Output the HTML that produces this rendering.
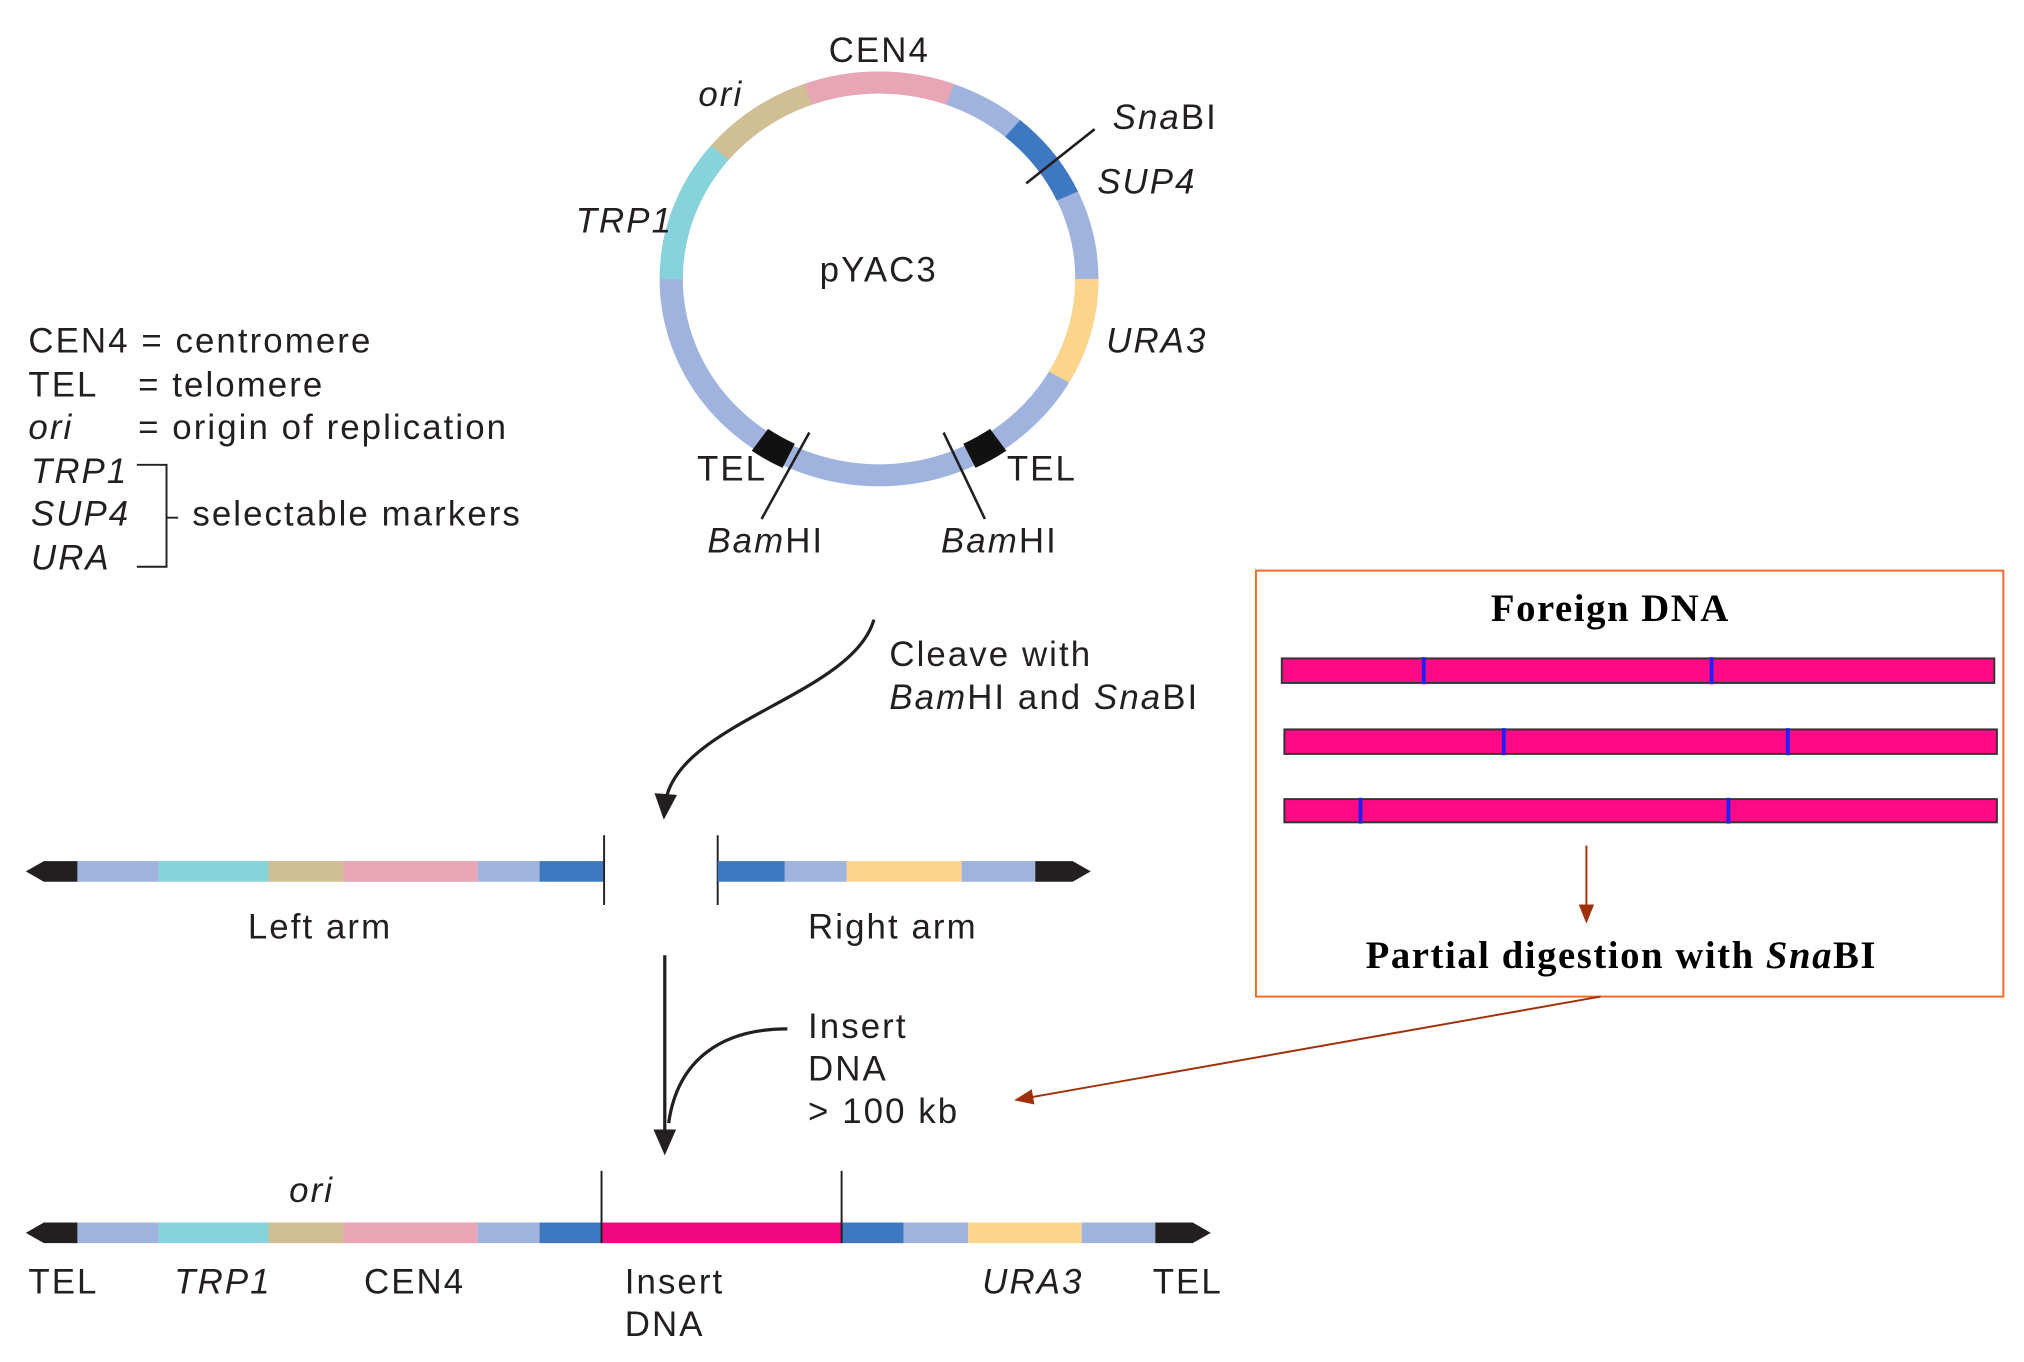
<!DOCTYPE html>
<html><head><meta charset="utf-8"><style>
html,body{margin:0;padding:0;background:#fff;}
svg{display:block}
text{font-family:"Liberation Sans",sans-serif;fill:#231f20}
.s{font-size:27px;letter-spacing:1.6px}
.i{font-style:italic}
.b{font-family:"Liberation Serif",serif;font-weight:bold;font-size:30px;letter-spacing:1.2px;fill:#000}
</style></head><body>
<svg width="2024" height="1362" viewBox="0 0 1568 1055" xmlns="http://www.w3.org/2000/svg">
<defs>
<marker id="ah" markerWidth="8" markerHeight="10" refX="4" refY="5" orient="auto"><path d="M0,1.5 L8,5 L0,8.5 Z" fill="#231f20"/></marker>
<marker id="ar" markerWidth="10" markerHeight="10" refX="5" refY="5" orient="auto"><path d="M0,1 L10,5 L0,9 Z" fill="#a0300a"/></marker>
</defs>
<g fill="none" stroke-width="18" transform="translate(681,216) scale(1,0.945)">
<circle r="161" stroke="#9fb3de"/>
<path d="M-55.1,-151.3 A161,161 0 0 1 55.1,-151.3" stroke="#e8a5b3"/>
<path d="M103.5,-123.3 A161,161 0 0 1 145.9,-68" stroke="#3d78c0"/>
<path d="M161,0 A161,161 0 0 1 139.4,80.5" stroke="#fdd58a"/>
<path d="M-161,0 A161,161 0 0 1 -123.3,-103.5" stroke="#86d3dc"/>
<path d="M-123.3,-103.5 A161,161 0 0 1 -55.1,-151.3" stroke="#d1bf94"/>
<path d="M92.3,131.9 A161,161 0 0 1 70,145" stroke="#111" stroke-width="22"/>
<path d="M-70,145 A161,161 0 0 1 -92.3,131.9" stroke="#111" stroke-width="22"/>
</g>
<g stroke="#231f20" stroke-width="2">
<line x1="795" y1="142" x2="848" y2="100"/>
<line x1="627" y1="335" x2="590" y2="402"/>
<line x1="731" y1="335" x2="763" y2="402"/>
</g>
<text class="s" x="642" y="48">CEN4</text>
<text class="s i" x="541" y="82">ori</text>
<text class="s" x="862" y="100"><tspan class="i">Sna</tspan>BI</text>
<text class="s i" x="850" y="150">SUP4</text>
<text class="s i" x="446" y="180">TRP1</text>
<text class="s" x="635" y="218">pYAC3</text>
<text class="s i" x="857" y="273">URA3</text>
<text class="s" x="540" y="372">TEL</text>
<text class="s" x="780" y="372">TEL</text>
<text class="s" x="548" y="428"><tspan class="i">Bam</tspan>HI</text>
<text class="s" x="729" y="428"><tspan class="i">Bam</tspan>HI</text>
<text class="s" x="22" y="273">CEN4 = centromere</text>
<text class="s" x="22" y="307">TEL</text><text class="s" x="107" y="307">= telomere</text>
<text class="s i" x="22" y="340">ori</text><text class="s" x="107" y="340">= origin of replication</text>
<text class="s i" x="24" y="374">TRP1</text>
<text class="s i" x="24" y="407">SUP4</text>
<text class="s i" x="24" y="441">URA</text>
<path d="M106,360 H129 V439 H106 M129,401 H138" fill="none" stroke="#231f20" stroke-width="1.5"/>
<text class="s" x="149" y="407">selectable markers</text>
<path d="M677,480 C660,540 520,560 515,625" fill="none" stroke="#231f20" stroke-width="2.5" marker-end="url(#ah)"/>
<text class="s" x="689" y="516">Cleave with</text>
<text class="s" x="689" y="549"><tspan class="i">Bam</tspan>HI and <tspan class="i">Sna</tspan>BI</text>
<g>
<path d="M20,675 L34,667 H60 V683 H34 Z" fill="#231f20"/>
<rect x="60" y="667" width="63" height="16" fill="#9fb3de"/>
<rect x="123" y="667" width="85" height="16" fill="#86d3dc"/>
<rect x="208" y="667" width="58" height="16" fill="#d1bf94"/>
<rect x="266" y="667" width="104" height="16" fill="#e8a5b3"/>
<rect x="370" y="667" width="48" height="16" fill="#9fb3de"/>
<rect x="418" y="667" width="50" height="16" fill="#3d78c0"/>
<line x1="468" y1="647" x2="468" y2="701" stroke="#231f20" stroke-width="1.5"/>
<line x1="556" y1="647" x2="556" y2="701" stroke="#231f20" stroke-width="1.5"/>
<rect x="556" y="667" width="52" height="16" fill="#3d78c0"/>
<rect x="608" y="667" width="48" height="16" fill="#9fb3de"/>
<rect x="656" y="667" width="89" height="16" fill="#fdd58a"/>
<rect x="745" y="667" width="57" height="16" fill="#9fb3de"/>
<path d="M802,667 H831 L845,675 L831,683 H802 Z" fill="#231f20"/>
</g>
<text class="s" x="192" y="727">Left arm</text>
<text class="s" x="626" y="727">Right arm</text>
<line x1="515" y1="740" x2="515" y2="885" stroke="#231f20" stroke-width="2.5" marker-end="url(#ah)"/>
<path d="M610,797 C560,797 525,820 518,870" fill="none" stroke="#231f20" stroke-width="2.5"/>
<text class="s" x="626" y="804">Insert</text>
<text class="s" x="626" y="837">DNA</text>
<text class="s" x="626" y="870">&gt; 100 kb</text>
<g>
<path d="M20,955 L34,947 H60 V963 H34 Z" fill="#231f20"/>
<rect x="60" y="947" width="63" height="16" fill="#9fb3de"/>
<rect x="123" y="947" width="85" height="16" fill="#86d3dc"/>
<rect x="208" y="947" width="58" height="16" fill="#d1bf94"/>
<rect x="266" y="947" width="104" height="16" fill="#e8a5b3"/>
<rect x="370" y="947" width="48" height="16" fill="#9fb3de"/>
<rect x="418" y="947" width="48" height="16" fill="#3d78c0"/>
<rect x="466" y="947" width="186" height="16" fill="#f0087e"/>
<rect x="652" y="947" width="48" height="16" fill="#3d78c0"/>
<rect x="700" y="947" width="50" height="16" fill="#9fb3de"/>
<rect x="750" y="947" width="88" height="16" fill="#fdd58a"/>
<rect x="838" y="947" width="57" height="16" fill="#9fb3de"/>
<path d="M895,947 H924 L938,955 L924,963 H895 Z" fill="#231f20"/>
<line x1="466" y1="907" x2="466" y2="963" stroke="#231f20" stroke-width="1.5"/>
<line x1="652" y1="907" x2="652" y2="963" stroke="#231f20" stroke-width="1.5"/>
</g>
<text class="s i" x="224" y="931">ori</text>
<text class="s" x="22" y="1002">TEL</text>
<text class="s i" x="135" y="1002">TRP1</text>
<text class="s" x="282" y="1002">CEN4</text>
<text class="s" x="484" y="1002">Insert</text>
<text class="s" x="484" y="1035">DNA</text>
<text class="s i" x="761" y="1002">URA3</text>
<text class="s" x="893" y="1002">TEL</text>
<rect x="973" y="442" width="579" height="330" fill="none" stroke="#f06a25" stroke-width="1.5"/>
<text class="b" x="1155" y="481">Foreign DNA</text>
<g stroke="#333" stroke-width="1.5" fill="#ff0a85">
<rect x="993" y="510" width="552" height="19"/>
<rect x="995" y="565" width="552" height="19"/>
<rect x="995" y="619" width="552" height="18"/>
</g>
<g stroke="#2020ff" stroke-width="3">
<line x1="1103" y1="509" x2="1103" y2="530"/>
<line x1="1326" y1="509" x2="1326" y2="530"/>
<line x1="1165" y1="564" x2="1165" y2="585"/>
<line x1="1385" y1="564" x2="1385" y2="585"/>
<line x1="1054" y1="618" x2="1054" y2="638"/>
<line x1="1339" y1="618" x2="1339" y2="638"/>
</g>
<line x1="1229" y1="655" x2="1229" y2="708" stroke="#a0300a" stroke-width="1.5" marker-end="url(#ar)"/>
<text class="b" x="1058" y="750">Partial digestion with <tspan font-style="italic">Sna</tspan>BI</text>
<line x1="1240" y1="772" x2="793" y2="851" stroke="#a0300a" stroke-width="1.5" marker-end="url(#ar)"/>
</svg>
</body></html>
